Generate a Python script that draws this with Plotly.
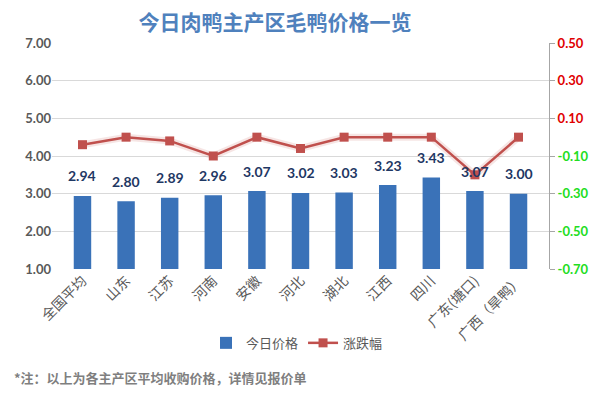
import plotly.graph_objects as go

categories = ["全国平均", "山东", "江苏", "河南", "安徽", "河北", "湖北", "江西", "四川", "广东(塘口)", "广西（旱鸭）"]
prices = [2.94, 2.80, 2.89, 2.96, 3.07, 3.02, 3.03, 3.23, 3.43, 3.07, 3.00]
changes = [-0.04, 0.00, -0.02, -0.10, 0.00, -0.06, 0.00, 0.00, 0.00, -0.20, 0.00]

left_ticks = [1, 2, 3, 4, 5, 6, 7]
right_ticks = [-0.70, -0.50, -0.30, -0.10, 0.10, 0.30, 0.50]

def rtxt(v):
    col = "#e00000" if v > 0 else "#22dd22"
    return f'<span style="color:{col}">{v:.2f}</span>'

fig = go.Figure()
fig.add_trace(go.Bar(
    x=categories, y=[p - 1 for p in prices], base=1, name="今日价格",
    marker=dict(color="#3a72b8", line=dict(width=0)),
    width=0.4, hoverinfo="skip",
))
fig.add_trace(go.Scatter(
    x=categories, y=changes, yaxis="y2", mode="lines",
    line=dict(color="rgba(192,80,77,0.15)", width=7), showlegend=False, hoverinfo="skip",
))
fig.add_trace(go.Scatter(
    x=categories, y=changes, yaxis="y2", mode="lines+markers", name="涨跌幅",
    line=dict(color="#c0504d", width=2.5),
    marker=dict(symbol="square", size=9, color="#c0504d"),
))

for c, p in zip(categories, prices):
    fig.add_annotation(x=c, y=p, yref="y", text=f"{p:.2f}", showarrow=False,
                       yshift=20, font=dict(family="Lato", size=14, color="#1f3864", weight="bold"))

fig.add_annotation(xref="paper", yref="paper", x=-0.081, y=-0.482, xanchor="left", yanchor="middle",
                   text="*注：以上为各主产区平均收购价格，详情见报价单", showarrow=False,
                   font=dict(family="Noto Sans CJK SC", size=13, color="#7f7f7f", weight="bold"))

fig.update_layout(
    width=594, height=395,
    margin=dict(l=52, r=45, t=43, b=126, autoexpand=False),
    paper_bgcolor="white", plot_bgcolor="white",
    title=dict(text="今日肉鸭主产区毛鸭价格一览", x=0.463, xanchor="center", y=0.942, yanchor="middle",
               font=dict(family="Noto Sans CJK SC", size=21, color="#4f81bd", weight="bold"),
               automargin=False),
    xaxis=dict(tickangle=-45, tickfont=dict(family="Noto Sans CJK SC", size=14, color="#595959"),
               showgrid=False, showline=False, ticks="", automargin=False),
    yaxis=dict(range=[1, 7], tickvals=left_ticks, ticktext=[f"{v:.2f}" for v in left_ticks],
               showgrid=True, gridcolor="#d9d9d9", gridwidth=1, zeroline=False, showline=False,
               automargin=False,
               tickfont=dict(family="Lato", size=13, color="#595959", weight="bold")),
    yaxis2=dict(range=[-0.70, 0.50], overlaying="y", side="right", tickvals=right_ticks,
                ticktext=[rtxt(v) for v in right_ticks], showgrid=False, zeroline=False,
                showline=True, linecolor="#a6a6a6", linewidth=1, ticks="outside", ticklen=5,
                tickcolor="#a6a6a6", automargin=False,
                tickfont=dict(family="Lato", size=13, weight="bold")),
    legend=dict(orientation="h", x=0.493, xanchor="center", y=-0.327, yanchor="middle",
                font=dict(family="Noto Sans CJK SC", size=13, color="#595959")),
    bargap=0.6,
    showlegend=True,
)

fig.write_html("out.html", config={"displayModeBar": False})

with open("out.html", encoding="utf-8") as f:
    html = f.read()
html = html.replace("<head>", "<head><style>html,body{margin:0;padding:0;overflow:hidden;}</style>", 1)
with open("out.html", "w", encoding="utf-8") as f:
    f.write(html)
